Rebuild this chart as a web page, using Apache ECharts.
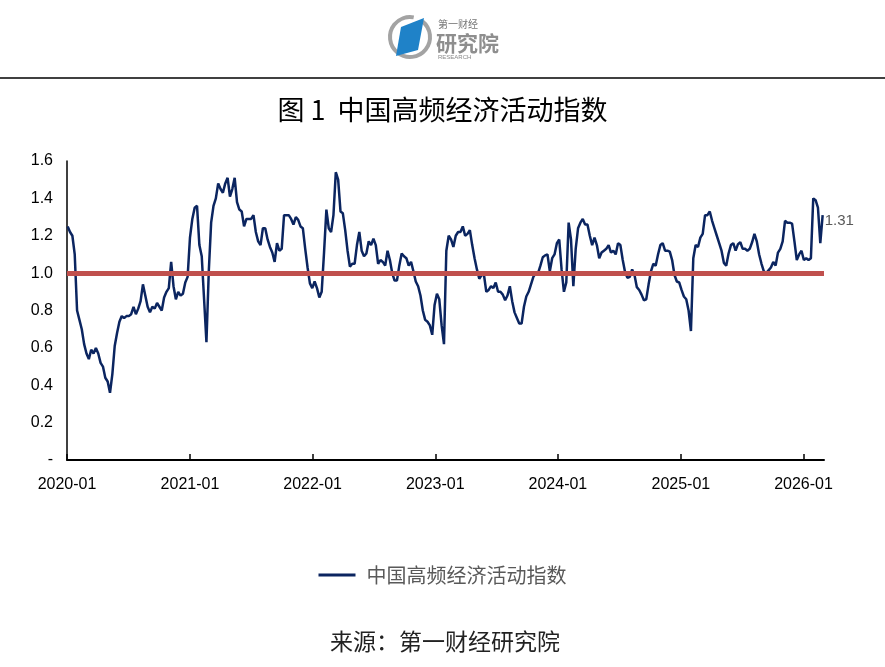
<!DOCTYPE html>
<html>
<head>
<meta charset="utf-8">
<script src="https://cdn.jsdelivr.net/npm/echarts@6.0.0/dist/echarts.min.js"></script>
<style>
html,body{margin:0;padding:0;background:#fff;}
#chart{width:885px;height:667px;}
</style>
</head>
<body>
<div id="chart"></div>
<script>
// ---- data (weekly readings, first week ending 2020-01-03) ----
const seriesName = '中国高频经济活动指数';
const startDate = [2020, 1, 3];
const values = [
 1.25,1.22,1.20,1.10,0.80,0.75,0.70,0.62,0.57,0.54,
 0.59,0.57,0.60,0.57,0.52,0.50,0.44,0.42,0.36,0.46,
 0.61,0.68,0.74,0.77,0.76,0.77,0.77,0.78,0.82,0.78,
 0.81,0.85,0.94,0.88,0.82,0.79,0.82,0.81,0.84,0.82,
 0.80,0.87,0.90,0.92,1.06,0.93,0.86,0.90,0.88,0.89,
 0.95,0.98,1.19,1.29,1.35,1.36,1.15,1.09,0.86,0.63,
 1.01,1.27,1.36,1.40,1.48,1.45,1.43,1.48,1.51,1.41,
 1.45,1.51,1.38,1.34,1.33,1.25,1.29,1.29,1.29,1.31,
 1.22,1.17,1.15,1.24,1.24,1.18,1.14,1.11,1.06,1.16,
 1.12,1.13,1.31,1.31,1.31,1.29,1.26,1.30,1.285,1.25,
 1.24,1.13,1.03,0.945,0.92,0.955,0.92,0.87,0.90,1.11,
 1.34,1.24,1.22,1.31,1.54,1.50,1.33,1.32,1.23,1.12,
 1.035,1.05,1.05,1.15,1.22,1.12,1.09,1.105,1.17,1.15,
 1.185,1.15,1.05,1.07,1.06,1.04,1.12,1.07,1.00,0.96,
 0.96,1.04,1.105,1.09,1.08,1.04,1.06,1.01,0.955,0.93,
 0.88,0.80,0.75,0.74,0.72,0.67,0.83,0.89,0.86,0.72,
 0.62,1.12,1.20,1.18,1.14,1.20,1.22,1.22,1.25,1.20,
 1.21,1.23,1.15,1.08,1.02,0.97,0.99,0.99,0.90,0.91,
 0.93,0.92,0.95,0.90,0.90,0.885,0.855,0.88,0.93,0.85,
 0.79,0.76,0.73,0.73,0.82,0.875,0.90,0.94,0.98,1.00,
 1.00,1.04,1.085,1.095,1.10,1.01,1.08,1.10,1.16,1.18,
 1.02,0.90,0.95,1.27,1.18,0.93,1.13,1.24,1.27,1.29,
 1.26,1.26,1.20,1.15,1.19,1.15,1.08,1.11,1.12,1.13,
 1.15,1.11,1.12,1.10,1.16,1.15,1.07,1.005,0.975,0.98,
 1.02,0.99,0.925,0.91,0.885,0.855,0.86,0.94,1.01,1.05,
 1.04,1.10,1.15,1.16,1.12,1.12,1.115,1.07,0.99,0.955,
 0.95,0.91,0.875,0.86,0.80,0.69,1.08,1.15,1.14,1.19,
 1.21,1.31,1.31,1.33,1.28,1.24,1.20,1.16,1.12,1.055,
 1.04,1.105,1.15,1.16,1.12,1.155,1.165,1.13,1.13,1.12,
 1.13,1.165,1.21,1.17,1.10,1.05,1.01,1.00,1.015,1.03,
 1.06,1.04,1.11,1.13,1.17,1.28,1.27,1.27,1.265,1.17,
 1.07,1.10,1.12,1.07,1.08,1.07,1.08,1.40,1.39,1.35,
 1.16,1.31
];
const tickLabels = ['2020-01','2021-01','2022-01','2023-01','2024-01','2025-01','2026-01'];
const yTicks = [0,0.2,0.4,0.6,0.8,1.0,1.2,1.4,1.6];
const baseline = 1.0;
const axisMin = [2020, 1, 1];
const axisMax = [2026, 3, 3];

// ---- build ----
function ts(y, m, d){ return Date.UTC(y, m - 1, d); }
const dates = values.map((v, i) => ts(startDate[0], startDate[1], startDate[2] + 7 * i));
const seriesData = values.map((v, i) => [dates[i], v]);
const tickValues = tickLabels.map(s => { const p = s.split('-'); return ts(+p[0], +p[1], 1); });
function fmtMonth(t){
  const d = new Date(t);
  const m = d.getUTCMonth() + 1;
  return d.getUTCFullYear() + '-' + (m < 10 ? '0' + m : m);
}

const chart = echarts.init(document.getElementById('chart'), null, {renderer:'canvas', width:885, height:667});
const latin = '"Liberation Sans", Arial, sans-serif';
const cjk = '"Noto Sans CJK SC", sans-serif';

chart.setOption({
  animation: false,
  backgroundColor: '#fff',
  title: {
    text: '图 1  中国高频经济活动指数',
    left: 'center',
    top: 91,
    textStyle: {fontFamily: cjk, fontSize: 27, fontWeight: 'normal', color: '#000'}
  },
  legend: {
    data: [{name: seriesName, icon: 'rect'}],
    left: 'center',
    top: 560,
    itemWidth: 37,
    itemHeight: 3,
    itemStyle: {color: '#0b2560'},
    textStyle: {fontFamily: cjk, fontSize: 20, color: '#595959', padding: [0, 0, 0, 6]}
  },
  grid: {left: 67, right: 61, top: 161, bottom: 207, containLabel: false},
  xAxis: {
    type: 'value',
    min: ts(axisMin[0], axisMin[1], axisMin[2]),
    max: ts(axisMax[0], axisMax[1], axisMax[2]),
    axisLine: {show: true, lineStyle: {color: '#000', width: 2}},
    axisTick: {show: true, inside: true, length: 6, lineStyle: {color: '#000', width: 1.5}, customValues: tickValues},
    axisLabel: {customValues: tickValues, formatter: fmtMonth, fontFamily: latin, fontSize: 16, color: '#000', margin: 17, showMinLabel: true, showMaxLabel: true},
    splitLine: {show: false}
  },
  yAxis: {
    type: 'value',
    min: yTicks[0],
    max: yTicks[yTicks.length - 1],
    interval: 0.2,
    axisLine: {show: true, lineStyle: {color: '#000', width: 1.5}},
    axisTick: {show: false},
    splitLine: {show: false},
    axisLabel: {
      fontFamily: latin, fontSize: 16, color: '#000', margin: 14,
      formatter: v => (Math.abs(v) < 1e-9 ? '-' : v.toFixed(1))
    }
  },
  series: [{
    name: seriesName,
    type: 'line',
    data: seriesData,
    symbol: 'none',
    showSymbol: false,
    lineStyle: {color: '#0b2560', width: 2.5},
    itemStyle: {color: '#0b2560'},
    endLabel: {
      show: true,
      formatter: p => p.value[1].toFixed(2),
      fontFamily: latin, fontSize: 15, color: '#595959',
      distance: 2, offset: [0, 6]
    },
    markLine: {
      silent: true,
      symbol: ['none', 'none'],
      label: {show: false},
      lineStyle: {color: '#C0504D', width: 5, type: 'solid'},
      data: [{yAxis: baseline}]
    }
  }],
  graphic: [
    {type: 'line', shape: {x1: 0, y1: 78, x2: 885, y2: 78}, style: {stroke: '#000', lineWidth: 1.5}},
    {type: 'arc', shape: {cx: 410, cy: 37, r: 20, startAngle: -0.9, endAngle: 4.9}, style: {stroke: '#a3a3a3', lineWidth: 4, fill: 'none'}},
    {type: 'polygon', shape: {points: [[401, 27], [424, 18], [418, 50], [396, 56]]}, style: {fill: '#1f82c8'}},
    {type: 'text', x: 438, y: 24, style: {text: '第一财经', font: '10px "Noto Sans CJK SC"', fill: '#777', verticalAlign: 'middle'}},
    {type: 'text', x: 436, y: 43, style: {text: '研究院', font: 'bold 21px "Noto Sans CJK SC"', fill: '#8e8e8e', verticalAlign: 'middle'}},
    {type: 'text', x: 438, y: 57, style: {text: 'RESEARCH', font: '6px "Liberation Sans"', fill: '#888', verticalAlign: 'middle'}},
    {type: 'text', x: 445, y: 641, style: {text: '来源：第一财经研究院', font: '23px "Noto Sans CJK SC"', fill: '#222', align: 'center', verticalAlign: 'middle'}}
  ]
});
</script>
</body>
</html>
